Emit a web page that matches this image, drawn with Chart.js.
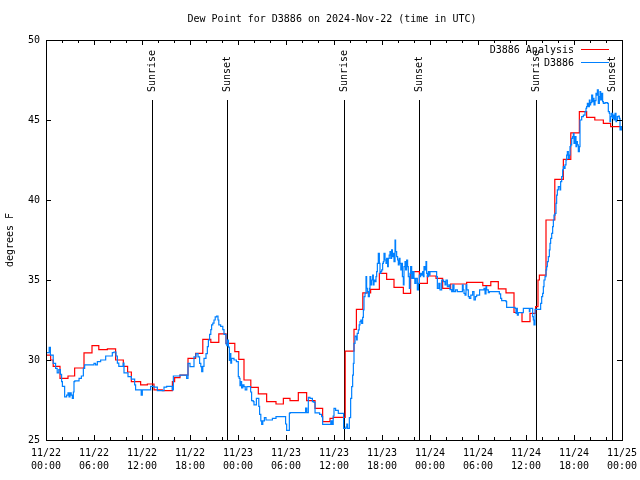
<!DOCTYPE html>
<html>
<head>
<meta charset="utf-8">
<script src="https://cdn.jsdelivr.net/npm/chart.js@4/dist/chart.umd.min.js"></script>
<style>
  html, body { margin: 0; padding: 0; background: #fff; }
  canvas { display: block; }
</style>
</head>
<body>
<canvas id="dewChart" width="640" height="480"></canvas>
<script>
// hours since 2024-11-22 00:00 UTC
const chartTitle = "Dew Point for D3886 on 2024-Nov-22 (time in UTC)";
const yTicks = [25, 30, 35, 40, 45, 50];
const sunriseHours = [13.3, 37.27, 61.25];
const sunsetHours = [22.67, 46.67, 70.7];

// D3886 Analysis (red, hourly steps)
const analysisHours = [
  0, 0.58, 0.9, 1.75, 2.75, 3.58, 4.75, 5.75, 6.6, 7.67,
  8.7, 9.67, 10.2, 10.67, 11.83, 12.67, 13.5, 14.54, 15.8, 16.08,
  16.75, 17.75, 18.7, 19.6, 20.6, 21.6, 22.5, 23.6, 24.1, 24.75,
  25.6, 26.54, 27.58, 28.75, 29.67, 30.5, 31.54, 32.58, 33.63, 34.58,
  35.5, 35.92, 37.4, 38.5, 38.8, 39.6, 40.58, 41.67, 42.58, 43.5,
  44.67, 45.58, 46.67, 47.67, 48.75, 49.58, 50.58, 52.58, 54.6, 55.6,
  56.54, 57.5, 58.5, 59.5, 60.5, 61.2, 61.5, 61.67, 62.5, 63.6,
  64.67, 65.6, 66.67, 67.58, 68.6, 69.67, 70.58, 72
];
const analysisDew = [
  30.3, 30.0, 29.6, 28.85, 29.0, 29.5, 30.45, 30.9, 30.65, 30.7,
  30.0, 29.6, 29.25, 28.65, 28.45, 28.5, 28.13, 28.08, 28.65, 28.9,
  29.05, 30.1, 30.42, 31.29, 31.1, 31.63, 31.04, 30.52, 30.04, 28.75,
  28.29, 27.88, 27.4, 27.25, 27.6, 27.46, 27.96, 27.46, 26.98, 26.15,
  26.35, 26.42, 30.55, 31.92, 33.17, 34.2, 34.42, 35.42, 35.04, 34.54,
  34.17, 35.52, 34.79, 35.25, 35.1, 34.48, 34.75, 34.85, 34.65, 34.9,
  34.45, 34.2, 32.97, 32.4, 32.92, 33.33, 35.0, 35.31, 38.75, 41.29,
  42.54, 44.2, 45.52, 45.17, 45.0, 44.79, 44.58, 44.58
];

// D3886 station obs (blue)
const stationHours = [
  0, 0.4, 0.55, 0.9, 1.2, 1.4, 1.6, 1.8, 1.95, 2.05,
  2.33, 2.58, 2.75, 2.88, 3.0, 3.15, 3.29, 3.42, 3.5, 3.6,
  4.13, 4.42, 4.67, 4.83, 6.0, 6.2, 6.42, 6.83, 7.46, 8.29,
  8.5, 8.75, 8.92, 9.1, 9.65, 9.75, 10.25, 10.67, 11.08, 11.2,
  11.9, 12.04, 13.08, 13.5, 13.92, 14.75, 15.08, 15.79, 15.92, 16.75,
  17.58, 17.75, 18.0, 18.5, 18.75, 19.0, 19.2, 19.35, 19.46, 19.6,
  19.75, 20.0, 20.17, 20.3, 20.45, 20.6, 20.7, 20.85, 21.0, 21.15,
  21.33, 21.5, 21.6, 21.83, 22.1, 22.25, 22.5, 22.6, 22.7, 22.8,
  22.92, 23.0, 23.1, 23.2, 23.5, 23.8, 24.04, 24.15, 24.25, 24.35,
  24.45, 24.6, 24.75, 24.9, 25.1, 25.58, 25.7, 25.9, 26.0, 26.3,
  26.6, 26.7, 26.85, 26.96, 27.1, 27.3, 27.5, 28.3, 28.75, 29.95,
  30.08, 30.42, 30.5, 32.38, 32.45, 32.6, 32.79, 33.0, 33.3, 33.5,
  33.63, 34.2, 34.45, 34.58, 35.5, 35.6, 35.75, 35.9, 36.0, 36.2,
  36.54, 37.2, 37.5, 37.6, 37.7, 37.92, 38.08, 38.21, 38.33, 38.42,
  38.5, 38.63, 38.75, 38.83, 38.9, 39.04, 39.15, 39.25, 39.35, 39.46,
  39.58, 39.67, 39.75, 39.88, 40.0, 40.08, 40.17, 40.29, 40.42, 40.5,
  40.6, 40.71, 40.83, 40.92, 41.0, 41.13, 41.25, 41.33, 41.42, 41.54,
  41.67, 41.75, 41.85, 41.96, 42.08, 42.17, 42.25, 42.38, 42.5, 42.58,
  42.7, 42.79, 42.9, 43.0, 43.1, 43.2, 43.3, 43.42, 43.5, 43.63,
  43.7, 43.83, 43.95, 44.04, 44.15, 44.25, 44.35, 44.46, 44.55, 44.67,
  44.75, 44.88, 44.95, 45.08, 45.2, 45.29, 45.42, 45.5, 45.58, 45.71,
  45.85, 46.0, 46.1, 46.25, 46.42, 46.55, 46.67, 46.75, 46.83, 46.95,
  47.08, 47.17, 47.25, 47.35, 47.5, 47.58, 47.67, 47.8, 47.9, 48.0,
  48.75, 48.83, 48.92, 49.1, 49.25, 49.46, 49.7, 49.88, 50.0, 50.17,
  50.35, 50.5, 50.71, 50.85, 51.0, 51.2, 51.42, 51.96, 52.05, 52.15,
  52.25, 52.38, 52.5, 52.6, 52.79, 52.92, 53.1, 53.33, 53.5, 53.67,
  53.83, 54.04, 54.2, 54.75, 54.88, 55.0, 55.08, 55.29, 55.42, 56.67,
  56.83, 56.96, 57.5, 57.58, 58.63, 58.75, 58.83, 58.92, 59.04, 59.58,
  59.67, 60.42, 60.5, 60.83, 60.92, 61.0, 61.13, 61.75, 61.83, 61.96,
  62.08, 62.17, 62.25, 62.38, 62.5, 62.58, 62.67, 62.79, 62.92, 63.0,
  63.08, 63.21, 63.33, 63.42, 63.5, 63.63, 63.75, 63.83, 63.92, 64.04,
  64.25, 64.33, 64.46, 64.58, 64.67, 64.75, 64.88, 65.0, 65.08, 65.17,
  65.29, 65.42, 65.5, 65.58, 65.71, 65.83, 65.92, 66.0, 66.13, 66.25,
  66.33, 66.42, 66.54, 66.67, 66.75, 66.96, 67.17, 67.38, 67.5, 67.58,
  67.67, 67.79, 67.92, 68.0, 68.08, 68.21, 68.33, 68.42, 68.5, 68.63,
  68.75, 68.83, 68.92, 69.04, 69.17, 69.25, 69.33, 69.46, 69.58, 69.67,
  69.88, 70.17, 70.29, 70.42, 70.5, 70.58, 70.71, 70.83, 70.92, 71.0,
  71.13, 71.25, 71.33, 71.42, 71.54, 71.67, 71.75, 71.83, 71.92, 72
];
const stationDew = [
  30.46, 30.79, 30.3, 29.79, 29.48, 29.19, 29.4, 29.1, 28.65, 28.35,
  27.7, 27.8, 27.95, 27.7, 27.95, 27.8, 27.6, 28.0, 28.65, 28.7,
  28.85, 29.0, 29.48, 29.69, 29.79, 29.69, 29.9, 30.0, 30.25, 30.46,
  30.5, 30.25, 29.8, 29.6, 29.8, 29.2, 28.96, 28.8, 28.45, 28.13,
  27.8, 28.13, 28.35, 28.3, 28.08, 28.3, 28.35, 28.13, 29.0, 29.06,
  28.85, 29.79, 29.58, 30.2, 30.4, 30.2, 29.79, 29.58, 29.27, 29.6,
  30.1, 30.4, 30.83, 31.25, 31.6, 31.9, 32.2, 32.3, 32.5, 32.7,
  32.75, 32.5, 32.2, 32.1, 31.9, 31.6, 31.0, 30.9, 31.25, 30.8,
  29.98, 30.4, 29.8, 30.1, 30.0, 29.9, 28.96, 28.85, 28.4, 28.65,
  28.25, 28.45, 28.33, 28.13, 28.33, 28.0, 27.46, 27.4, 27.2, 27.6,
  27.1, 26.6, 26.2, 25.98, 26.2, 26.4, 26.25, 26.35, 26.46, 26.0,
  25.6, 26.67, 26.71, 26.71, 27.0, 26.71, 27.67, 27.6, 27.4, 27.35,
  26.7, 26.6, 26.46, 25.98, 25.98, 26.2, 25.98, 26.5, 26.98, 26.85,
  26.67, 25.73, 25.8, 26.0, 25.73, 26.4, 27.6, 28.33, 29.06, 29.79,
  31.04, 31.5, 31.46, 31.25, 31.67, 31.88, 32.19, 32.4, 32.5, 32.29,
  32.67, 33.13, 33.96, 34.17, 35.21, 34.48, 34.27, 33.96, 34.48, 35.21,
  34.69, 35.0, 35.31, 34.69, 35.0, 34.9, 35.21, 35.52, 36.04, 36.67,
  36.04, 35.42, 35.52, 35.63, 36.04, 36.15, 36.67, 36.25, 36.04, 36.35,
  35.83, 36.35, 36.56, 36.77, 36.35, 36.88, 36.46, 36.67, 36.15, 37.5,
  36.77, 36.46, 36.25, 35.94, 36.35, 36.04, 35.63, 36.04, 35.21, 34.69,
  35.83, 36.15, 35.63, 36.25, 35.83, 35.21, 34.48, 35.42, 35.83, 35.1,
  35.52, 35.1, 34.79, 35.1, 34.38, 34.79, 35.31, 35.21, 35.42, 35.31,
  35.52, 35.21, 35.83, 35.63, 36.15, 35.42, 35.21, 35.52, 35.31, 35.52,
  35.52, 35.21, 34.48, 34.79, 34.38, 35.0, 34.9, 34.69, 35.0, 34.58,
  34.69, 34.4, 34.27, 34.69, 34.27, 34.38, 34.27, 34.27, 34.69, 34.38,
  34.17, 34.06, 34.69, 34.38, 33.96, 33.85, 34.06, 34.27, 33.75, 33.96,
  34.06, 34.06, 34.38, 34.48, 34.13, 34.58, 34.38, 34.21, 34.27, 34.13,
  33.85, 33.71, 33.65, 33.29, 33.23, 32.92, 33.23, 32.81, 32.96, 32.96,
  33.23, 33.02, 33.23, 32.71, 32.5, 32.19, 33.17, 33.17, 33.54, 33.96,
  34.17, 34.58, 35.0, 35.21, 35.63, 35.83, 36.15, 36.46, 36.88, 37.29,
  37.6, 37.92, 38.33, 38.75, 39.06, 39.17, 39.79, 40.31, 40.63, 40.83,
  40.63, 41.15, 41.46, 41.88, 42.08, 41.98, 42.19, 42.5, 42.81, 43.02,
  42.6, 42.81, 43.33, 43.44, 43.85, 43.96, 44.17, 43.54, 43.96, 43.33,
  43.65, 43.44, 43.02, 43.33, 45.0, 45.21, 45.31, 45.52, 45.73, 45.83,
  46.04, 45.83, 46.25, 45.94, 46.08, 46.56, 46.15, 46.35, 45.94, 46.21,
  46.67, 46.56, 46.88, 46.04, 46.46, 46.77, 46.25, 46.67, 46.15, 46.04,
  46.08, 46.04, 45.52, 45.42, 44.9, 45.21, 45.42, 45.1, 45.31, 45.0,
  45.42, 44.9, 45.0, 45.21, 45.25, 45.1, 44.38, 44.58, 44.38, 44.38
];

const FONT = "'DejaVu Sans Mono', 'Liberation Mono', monospace";
const RED = "#ff0000";
const BLUE = "#0080ff";

function pad2(n) {
  return (n < 10 ? "0" : "") + n;
}

function hourLabel(h) {
  const day = 22 + Math.floor(h / 24);
  const hh = h % 24;
  return ["11/" + day, pad2(hh) + ":00"];
}

// frame, inward ticks, sunrise/sunset markers, legend and title (gnuplot look)
const gnuplotDecor = {
  id: "gnuplotDecor",
  beforeDatasetsDraw(chart) {
    const ctx = chart.ctx;
    const area = chart.chartArea;
    const x = chart.scales.x;
    ctx.save();
    ctx.strokeStyle = "#000";
    ctx.lineWidth = 1;
    ctx.fillStyle = "#000";
    ctx.font = "10px " + FONT;
    ctx.textBaseline = "middle";
    ctx.textAlign = "left";
    const marks = sunriseHours
      .map((h) => ({ h: h, t: "Sunrise" }))
      .concat(sunsetHours.map((h) => ({ h: h, t: "Sunset" })));
    marks.forEach((m) => {
      const px = Math.round(x.getPixelForValue(m.h)) + 0.5;
      ctx.beginPath();
      ctx.moveTo(px, area.top + 60);
      ctx.lineTo(px, area.bottom);
      ctx.stroke();
      ctx.save();
      ctx.translate(px, area.top + 52);
      ctx.rotate(-Math.PI / 2);
      ctx.fillText(m.t, 0, 0);
      ctx.restore();
    });
    ctx.restore();
  },
  afterDatasetsDraw(chart) {
    const ctx = chart.ctx;
    const area = chart.chartArea;
    const x = chart.scales.x;
    const y = chart.scales.y;
    ctx.save();
    ctx.strokeStyle = "#000";
    ctx.lineWidth = 1;
    ctx.beginPath();
    // x ticks every 2 h, longer every 6 h, on bottom and top
    for (let h = 0; h <= 72; h += 2) {
      const px = Math.round(x.getPixelForValue(h)) + 0.5;
      const len = h % 6 === 0 ? 5 : 3;
      ctx.moveTo(px, area.bottom);
      ctx.lineTo(px, area.bottom - len);
      ctx.moveTo(px, area.top);
      ctx.lineTo(px, area.top + len);
    }
    yTicks.forEach((v) => {
      const py = Math.round(y.getPixelForValue(v)) + 0.5;
      ctx.moveTo(area.left, py);
      ctx.lineTo(area.left + 5, py);
      ctx.moveTo(area.right, py);
      ctx.lineTo(area.right - 5, py);
    });
    ctx.stroke();
    ctx.strokeRect(
      Math.round(area.left) + 0.5,
      Math.round(area.top) + 0.5,
      Math.round(area.right - area.left),
      Math.round(area.bottom - area.top)
    );

    // legend
    ctx.font = "10px " + FONT;
    ctx.fillStyle = "#000";
    ctx.textAlign = "right";
    ctx.textBaseline = "middle";
    const items = [
      { label: "D3886 Analysis", color: RED },
      { label: "D3886", color: BLUE },
    ];
    items.forEach((it, i) => {
      const ly = area.top + 10 + i * 13;
      ctx.fillText(it.label, area.right - 48, ly);
      ctx.strokeStyle = it.color;
      ctx.beginPath();
      ctx.moveTo(area.right - 41, Math.round(ly) - 0.5);
      ctx.lineTo(area.right - 13, Math.round(ly) - 0.5);
      ctx.stroke();
    });

    // title
    ctx.textAlign = "center";
    ctx.fillText(chartTitle, (area.left + area.right) / 2 - 2, 19);
    ctx.restore();
  },
};

const ctx = document.getElementById("dewChart").getContext("2d");
new Chart(ctx, {
  type: "line",
  data: {
    datasets: [
      {
        label: "D3886",
        data: stationHours.map((h, i) => ({ x: h, y: stationDew[i] })),
        borderColor: BLUE,
        borderWidth: 1.2,
        pointRadius: 0,
        stepped: "before",
        fill: false,
      },
      {
        label: "D3886 Analysis",
        data: analysisHours.map((h, i) => ({ x: h, y: analysisDew[i] })),
        borderColor: RED,
        borderWidth: 1.2,
        pointRadius: 0,
        stepped: "before",
        fill: false,
      },
    ],
  },
  options: {
    responsive: false,
    animation: false,
    devicePixelRatio: 1,
    layout: { padding: { left: 0, right: 18, top: 40, bottom: 0 } },
    plugins: {
      legend: { display: false },
      title: { display: false },
      tooltip: { enabled: false },
    },
    scales: {
      x: {
        type: "linear",
        min: 0,
        max: 72,
        grid: { display: false, drawTicks: false, tickLength: 0 },
        border: { display: false },
        ticks: {
          stepSize: 6,
          autoSkip: false,
          maxRotation: 0,
          padding: 7,
          color: "#000",
          font: { family: FONT, size: 10, lineHeight: 1.3 },
          callback: (v) => hourLabel(v),
        },
        afterFit: (scale) => {
          scale.height = 40;
          scale.paddingLeft = 0;
          scale.paddingRight = 0;
        },
      },
      y: {
        type: "linear",
        min: 25,
        max: 50,
        grid: { display: false, drawTicks: false, tickLength: 0 },
        border: { display: false },
        ticks: {
          stepSize: 5,
          padding: 6,
          color: "#000",
          font: { family: FONT, size: 10 },
        },
        title: {
          display: true,
          text: "degrees F",
          color: "#000",
          padding: { top: 4, bottom: 0 },
          font: { family: FONT, size: 10 },
        },
        afterFit: (scale) => {
          scale.width = 46;
          scale.paddingTop = 0;
          scale.paddingBottom = 0;
        },
      },
    },
  },
  plugins: [gnuplotDecor],
});
</script>
</body>
</html>
